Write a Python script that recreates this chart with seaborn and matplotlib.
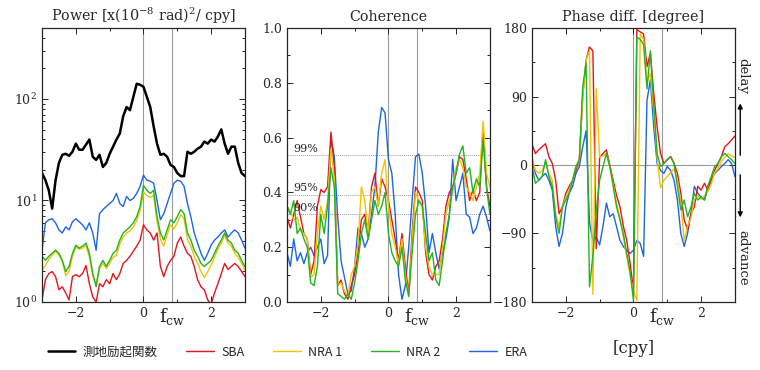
import numpy as np
import matplotlib
matplotlib.use("Agg")
import matplotlib.pyplot as plt
import matplotlib.ticker as mticker
import matplotlib.transforms as mtransforms
from matplotlib.lines import Line2D
from matplotlib.patches import FancyArrowPatch
import seaborn as sns

# frequency grid [cpy]
freq = np.round(np.arange(-3.0, 3.01, 0.1), 1)
fcw = 0.843

# power spectra, log10 of [x(1e-8 rad)^2/cpy]
geod_log = [1.27, 1.20, 1.10, 0.92, 1.20, 1.37, 1.45, 1.46, 1.44, 1.48,
            1.56, 1.50, 1.50, 1.55, 1.60, 1.43, 1.40, 1.45, 1.33, 1.37,
            1.46, 1.53, 1.60, 1.66, 1.83, 1.92, 1.89, 2.02, 2.15, 2.14,
            2.12, 2.02, 1.92, 1.73, 1.56, 1.45, 1.46, 1.43, 1.35, 1.33,
            1.27, 1.24, 1.24, 1.48, 1.46, 1.48, 1.51, 1.53, 1.58, 1.56,
            1.60, 1.58, 1.63, 1.70, 1.56, 1.46, 1.53, 1.53, 1.37, 1.27, 1.24]
sba_log = [0.02, 0.22, 0.28, 0.30, 0.25, 0.12, 0.15, 0.09, 0.02, 0.25,
           0.27, 0.25, 0.28, 0.36, 0.18, 0.05, 0.00, 0.18, 0.15, 0.22,
           0.18, 0.28, 0.22, 0.28, 0.38, 0.41, 0.45, 0.50, 0.55, 0.61,
           0.76, 0.71, 0.68, 0.61, 0.68, 0.35, 0.25, 0.35, 0.41, 0.45,
           0.58, 0.64, 0.55, 0.48, 0.45, 0.35, 0.22, 0.15, 0.12, 0.02,
           -0.02, 0.09, 0.18, 0.28, 0.38, 0.32, 0.35, 0.38, 0.35, 0.30, 0.25]
nra1_log = [0.32, 0.36, 0.42, 0.46, 0.50, 0.46, 0.40, 0.26, 0.30, 0.45,
            0.54, 0.52, 0.53, 0.56, 0.44, 0.26, 0.18, 0.33, 0.38, 0.33,
            0.38, 0.44, 0.46, 0.57, 0.64, 0.68, 0.70, 0.74, 0.80, 0.90,
            1.08, 1.05, 1.03, 1.05, 0.80, 0.62, 0.55, 0.66, 0.76, 0.72,
            0.78, 0.86, 0.82, 0.62, 0.55, 0.45, 0.38, 0.30, 0.24, 0.30,
            0.36, 0.44, 0.52, 0.58, 0.66, 0.58, 0.55, 0.48, 0.44, 0.38, 0.32]
nra2_log = [0.45, 0.41, 0.45, 0.48, 0.51, 0.48, 0.41, 0.30, 0.35, 0.48,
            0.56, 0.53, 0.55, 0.58, 0.48, 0.28, 0.15, 0.35, 0.41, 0.35,
            0.41, 0.48, 0.51, 0.61, 0.68, 0.71, 0.74, 0.78, 0.84, 0.94,
            1.15, 1.10, 1.07, 1.10, 0.84, 0.68, 0.61, 0.71, 0.81, 0.78,
            0.84, 0.91, 0.87, 0.68, 0.61, 0.51, 0.45, 0.38, 0.35, 0.38,
            0.41, 0.48, 0.55, 0.61, 0.68, 0.61, 0.58, 0.51, 0.48, 0.41, 0.35]
era_log = [0.51, 0.78, 0.81, 0.82, 0.78, 0.71, 0.68, 0.74, 0.71, 0.79,
           0.82, 0.79, 0.76, 0.71, 0.78, 0.68, 0.51, 0.87, 0.91, 0.94,
           0.97, 1.00, 1.07, 0.97, 0.94, 1.04, 1.00, 1.02, 1.07, 1.14,
           1.25, 1.20, 1.19, 1.17, 1.00, 0.81, 0.87, 0.97, 1.07, 1.17,
           1.20, 1.19, 1.14, 0.97, 0.84, 0.68, 0.58, 0.48, 0.41, 0.48,
           0.56, 0.61, 0.64, 0.68, 0.71, 0.64, 0.68, 0.71, 0.68, 0.61, 0.53]

# coherence with geodetic excitation
coh_sba = [0.31, 0.27, 0.32, 0.37, 0.31, 0.25, 0.23, 0.10, 0.15, 0.35,
           0.41, 0.40, 0.42, 0.62, 0.49, 0.06, 0.08, 0.03, 0.01, 0.06,
           0.10, 0.18, 0.30, 0.32, 0.25, 0.42, 0.47, 0.35, 0.45, 0.42,
           0.37, 0.30, 0.23, 0.15, 0.25, 0.13, 0.03, 0.25, 0.42, 0.40,
           0.37, 0.18, 0.10, 0.08, 0.13, 0.15, 0.23, 0.35, 0.40, 0.42,
           0.47, 0.53, 0.52, 0.45, 0.37, 0.41, 0.37, 0.40, 0.64, 0.42, 0.35]
coh_nra1 = [0.35, 0.33, 0.30, 0.31, 0.26, 0.25, 0.23, 0.09, 0.10, 0.25,
            0.35, 0.30, 0.37, 0.56, 0.45, 0.06, 0.07, 0.04, 0.02, 0.10,
            0.13, 0.21, 0.42, 0.37, 0.25, 0.40, 0.42, 0.35, 0.47, 0.52,
            0.35, 0.25, 0.20, 0.14, 0.23, 0.10, 0.02, 0.22, 0.40, 0.37,
            0.35, 0.20, 0.13, 0.10, 0.10, 0.10, 0.20, 0.32, 0.37, 0.40,
            0.49, 0.52, 0.49, 0.42, 0.40, 0.37, 0.42, 0.47, 0.66, 0.47, 0.42]
coh_nra2 = [0.35, 0.32, 0.37, 0.25, 0.27, 0.23, 0.20, 0.07, 0.06, 0.13,
            0.32, 0.25, 0.35, 0.49, 0.42, 0.03, 0.02, 0.01, 0.03, 0.01,
            0.07, 0.15, 0.25, 0.30, 0.23, 0.30, 0.37, 0.32, 0.35, 0.40,
            0.25, 0.18, 0.15, 0.13, 0.20, 0.08, 0.02, 0.18, 0.32, 0.37,
            0.35, 0.25, 0.15, 0.18, 0.08, 0.06, 0.15, 0.25, 0.32, 0.42,
            0.47, 0.54, 0.57, 0.47, 0.49, 0.40, 0.45, 0.42, 0.59, 0.42, 0.32]
coh_era = [0.18, 0.13, 0.23, 0.15, 0.18, 0.14, 0.18, 0.20, 0.17, 0.20,
           0.23, 0.14, 0.17, 0.60, 0.53, 0.31, 0.15, 0.09, 0.03, 0.04,
           0.13, 0.27, 0.25, 0.20, 0.23, 0.32, 0.42, 0.62, 0.71, 0.69,
           0.52, 0.47, 0.32, 0.10, 0.01, 0.06, 0.20, 0.37, 0.53, 0.54,
           0.47, 0.35, 0.18, 0.25, 0.18, 0.12, 0.18, 0.23, 0.31, 0.52,
           0.37, 0.42, 0.47, 0.32, 0.31, 0.25, 0.27, 0.32, 0.35, 0.31, 0.26]
sig_levels = [0.535, 0.392, 0.32]
sig_labels = ["99%", "95%", "90%"]

# phase difference [degree]
ph_sba = [28, 15, 20, 24, 28, 11, 2, -20, -64, -55,
          -37, -28, -20, -7, 7, 90, 138, 155, 150, -110,
          10, 15, 20, 0, -20, -40, -55, -80, -99, -129,
          -165, 178, 175, 172, 129, 147, 94, 50, 15, 2,
          7, 11, 2, -11, -37, -72, -85, -64, -55, -28,
          -33, -24, -33, -20, -7, 2, 11, 24, 28, 33, 38]
ph_nra1 = [11, -7, -11, -7, 2, -11, -20, -64, -81, -55,
           -42, -33, -20, -2, 7, 90, 138, 150, -170, 100,
           10, 12, 15, -2, -25, -50, -70, -95, -120, -145,
           -165, -178, 172, 165, 110, 120, 70, 10, -30, -20,
           -15, -10, -5, -20, -50, -100, -80, -70, -45, -40,
           -45, -40, -35, -25, -10, -5, 5, 10, 15, 12, 10]
ph_nra2 = [-2, -24, -20, -15, 7, -15, -28, -68, -90, -55,
           -46, -37, -20, -2, 7, 103, 134, -160, -120, -60,
           -20, -2, 15, -2, -28, -55, -72, -90, -116, -140,
           -178, 168, 165, 158, 100, 150, 80, 15, -2, 2,
           7, 11, 2, -28, -59, -46, -68, -55, -37, -46,
           -42, -46, -28, -15, -2, 2, 11, 15, 11, 7, 2]
ph_era = [7, -11, -20, -15, -11, -20, -33, -81, -107, -90,
          -55, -37, -28, -11, -2, 24, 45, -75, -100, -95,
          -105, -80, -50, -68, -64, -81, -99, -107, -112, -116,
          -112, -99, -103, -120, 85, 112, 50, 2, -7, -11,
          -2, -7, -20, -46, -90, -107, -90, -64, -28, -37,
          -42, -46, -28, -20, -11, -7, -2, 2, 7, 2, -15]

labels = ["測地励起関数", "SBA", "NRA 1", "NRA 2", "ERA"]
colors = ["black", "#e3141c", "#f2c400", "#22b322", "#1c66e0"]

sns.set_style("ticks")
plt.rcParams["font.family"] = ["DejaVu Serif"]
plt.rcParams["mathtext.fontset"] = "dejavuserif"

fig = plt.figure(figsize=(7.6, 3.7), dpi=100)
axw, axh, axb = 0.267, 0.7405, 0.1838
ax1 = fig.add_axes([0.0553, axb, axw, axh])
ax2 = fig.add_axes([0.3776, axb, axw, axh])
ax3 = fig.add_axes([0.700, axb, axw, axh])

grey = "#9a9a9a"
title_size = 10.3

# --- power
for vals, c, lw in zip([era_log, sba_log, nra1_log, nra2_log, geod_log],
                       [colors[4], colors[1], colors[2], colors[3], colors[0]],
                       [1.0, 1.0, 1.0, 1.0, 1.8]):
    sns.lineplot(x=freq, y=10 ** np.array(vals), ax=ax1, color=c, lw=lw,
                 estimator=None)
ax1.set_yscale("log")
ax1.set_ylim(1, 500)
ax1.set_title(r"Power [x(10$^{-8}$ rad)$^{2}$/ cpy]", fontsize=title_size,
              pad=5)

# --- coherence
for vals, c in zip([coh_era, coh_sba, coh_nra1, coh_nra2],
                   [colors[4], colors[1], colors[2], colors[3]]):
    sns.lineplot(x=freq, y=vals, ax=ax2, color=c, lw=1.0, estimator=None)
for lev, lab in zip(sig_levels, sig_labels):
    ax2.axhline(lev, color=grey, lw=0.7, ls=(0, (1, 1)), zorder=0)
    ax2.text(-2.82, lev + 0.005, lab, fontsize=8, va="bottom", ha="left")
ax2.set_ylim(0, 1)
ax2.yaxis.set_major_locator(mticker.MultipleLocator(0.2))
ax2.yaxis.set_minor_locator(mticker.MultipleLocator(0.1))
ax2.yaxis.set_major_formatter(mticker.FormatStrFormatter("%.1f"))
ax2.set_title("Coherence", fontsize=title_size, pad=5)

# --- phase
for vals, c in zip([ph_era, ph_sba, ph_nra1, ph_nra2],
                   [colors[4], colors[1], colors[2], colors[3]]):
    sns.lineplot(x=freq, y=vals, ax=ax3, color=c, lw=1.0, estimator=None)
ax3.axhline(0, color=grey, lw=0.8, zorder=0)
ax3.set_ylim(-180, 180)
ax3.yaxis.set_major_locator(mticker.MultipleLocator(90))
ax3.yaxis.set_minor_locator(mticker.MultipleLocator(45))
ax3.set_title("Phase diff. [degree]", fontsize=title_size, pad=5)

for ax in (ax1, ax2, ax3):
    ax.set_xlim(-3, 3)
    ax.axvline(0, color=grey, lw=0.8, zorder=0)
    ax.axvline(fcw, color=grey, lw=0.8, zorder=0)
    ax.xaxis.set_major_locator(mticker.FixedLocator([-2, 0, 2]))
    ax.xaxis.set_minor_locator(mticker.MultipleLocator(1))
    ax.tick_params(which="both", direction="in", top=True, right=True,
                   labelsize=9, width=0.7)
    ax.tick_params(which="major", length=4)
    ax.tick_params(which="minor", length=2.5)
    for sp in ax.spines.values():
        sp.set_linewidth(0.9)
    ax.set_xlabel("")
    ax.set_ylabel("")
    trans = mtransforms.blended_transform_factory(ax.transData, ax.transAxes)
    ax.text(fcw, -0.015, r"$\mathregular{f_{cw}}$", transform=trans,
            ha="center", va="top", fontsize=13)

ax3.text(0.5, -0.14, "[cpy]", transform=ax3.transAxes, ha="center",
         va="top", fontsize=12)

# delay / advance annotation
fig.text(0.978, 0.795, "delay", rotation=270, ha="center", va="center",
         fontsize=9.5)
fig.text(0.978, 0.303, "advance", rotation=270, ha="center", va="center",
         fontsize=9.5)
fig.add_artist(FancyArrowPatch(
    (0.974, 0.573), (0.974, 0.728), transform=fig.transFigure,
    arrowstyle="-|>", mutation_scale=7, lw=1.0, color="black"))
fig.add_artist(FancyArrowPatch(
    (0.974, 0.535), (0.974, 0.405), transform=fig.transFigure,
    arrowstyle="-|>", mutation_scale=7, lw=1.0, color="black"))

handles = [Line2D([], [], color=c, lw=1.8 if i == 0 else 1.0)
           for i, c in enumerate(colors)]
fig.legend(handles, labels, loc="center left", bbox_to_anchor=(0.048, 0.048),
           ncol=5, frameon=False, handlelength=2.2, columnspacing=2.3,
           handletextpad=0.6,
           prop={"family": ["Noto Sans CJK JP", "DejaVu Sans"], "size": 9})

fig.savefig("out.png", dpi=100)
